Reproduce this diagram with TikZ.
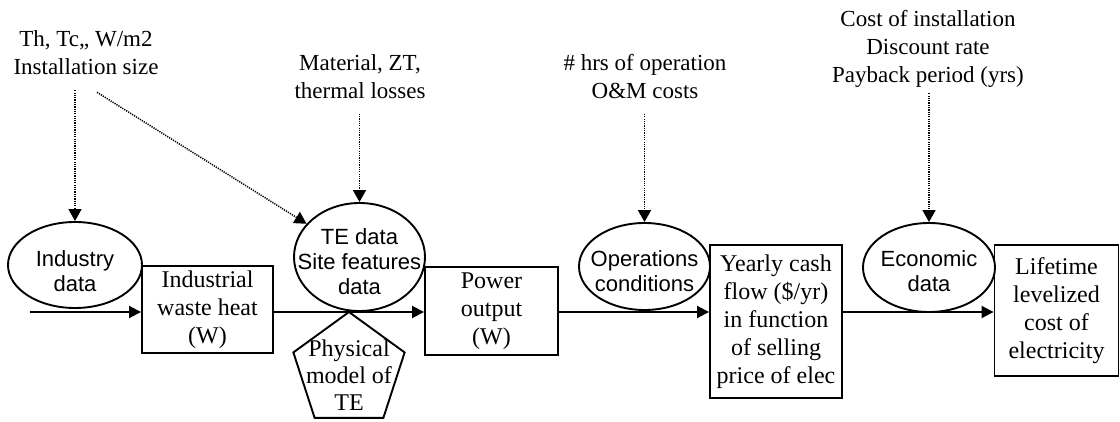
\documentclass[tikz,border=0pt]{standalone}
\usepackage{fontspec}
\setmainfont{Liberation Serif}
\newfontfamily\sansf{Liberation Sans}
\usetikzlibrary{shapes.geometric,arrows.meta,calc}
\begin{document}
\begin{tikzpicture}[x=1pt,y=-1pt,
  box/.style={draw, line width=1.9pt, rectangle, inner sep=0pt, align=center,
    font=\fontsize{24}{28}\selectfont},
  oval/.style={draw, line width=1.9pt, ellipse, inner sep=0pt},
  otext/.style={align=center, inner sep=0pt, font=\sansf\fontsize{22}{25}\selectfont},
  ptext/.style={align=center, inner sep=0pt, font=\fontsize{24}{27}\selectfont},
  toptext/.style={align=center, inner sep=2pt, font=\fontsize{23}{28}\selectfont},
  flow/.style={line width=1.9pt, -{Triangle[length=12pt,width=12pt]}},
  feed/.style={line width=1.5pt, dash pattern=on 1.2pt off 1.1pt,
    -{Triangle[length=12pt,width=13pt]}},
]
\useasboundingbox (0,0) rectangle (1120,422);

% ovals
\node[oval, minimum width=134pt, minimum height=86pt] (ind) at (75,265) {};
\node[otext] (indT) at (75,271) {Industry\\data};
\node[oval, minimum width=131pt, minimum height=108pt] (te) at (359.5,257) {};
\node[otext] (teT) at (359.5,262) {TE data\\Site features\\data};
\node[oval, minimum width=131pt, minimum height=87pt] (oc) at (644.5,266.5) {};
\node[otext] (ocT) at (644.5,271) {Operations\\conditions};
\node[oval, minimum width=132pt, minimum height=89pt] (ec) at (929,267.5) {};
\node[otext] (ecT) at (929,271) {Economic\\data};

% boxes
\node[box, minimum width=131pt, minimum height=87pt] (whb) at (207.5,309.5) {Industrial\\waste heat\\(W)};
\node[box, minimum width=133pt, minimum height=88pt] (pow) at (491.5,311) {Power\\output\\(W)};
\node[box, minimum width=132pt, minimum height=153pt] (yc) at (776,321.5) {Yearly cash\\flow (\$/yr)\\in function\\of selling\\price of elec};
\node[box, minimum width=124pt, minimum height=131pt] (lt) at (1056.5,310.5) {Lifetime\\levelized\\cost of\\electricity};

% pentagon
\node[draw, line width=1.9pt, regular polygon, regular polygon sides=5,
  minimum size=117pt, inner sep=0pt] (pm) at (349,370.5) {};
\node[ptext] (pmT) at (349,375) {Physical\\model of\\TE};

% top texts
\node[toptext] (t1) at (86,53) {Th, Tc,, W/m2\\Installation size};
\node[toptext] (t2) at (360,76.5) {Material, ZT,\\thermal losses};
\node[toptext] (t3) at (645,76.5) {\# hrs of operation\\O\&M costs};
\node[toptext] (t4) at (928,48.5) {Cost of installation\\Discount rate\\Payback period (yrs)};

% main flow
\coordinate (in) at (30,312);
\draw[flow] (in) -- (in -| whb.west);
\draw[flow] (in -| whb.east) -- (in -| pow.west);
\draw[flow] (in -| pow.east) -- (in -| yc.west);
\draw[flow] (in -| yc.east) -- (in -| lt.west);

% feeds
\draw[feed, shorten <=13pt] (t1.south -| ind.north) -- (ind.north);
\draw[feed] ($(t1.south)+(11,15)$) -- (te);
\draw[feed, shorten <=13pt] (t2.south -| te.north) -- (te.north);
\draw[feed, shorten <=13pt] (t3.south -| oc.north) -- (oc.north);
\draw[feed, shorten <=4pt] (t4.south -| ec.north) -- (ec.north);
\end{tikzpicture}
\end{document}
